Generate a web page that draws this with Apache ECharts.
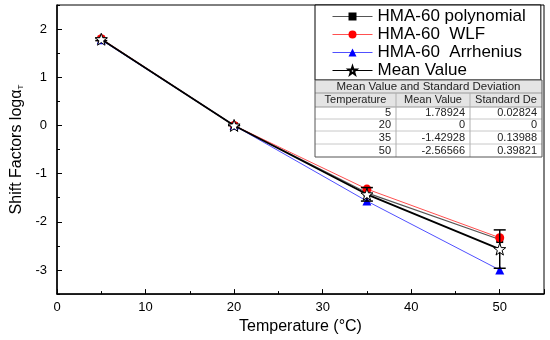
<!DOCTYPE html>
<html>
<head>
<meta charset="utf-8">
<script src="https://cdn.jsdelivr.net/npm/echarts@6/dist/echarts.min.js"></script>
<style>html,body{margin:0;padding:0;background:#fff}#c{width:550px;height:340px}</style>
</head>
<body>
<div id="c"></div>
<script>
const temps = [5, 20, 35, 50];
const polynomial = [1.79, 0, -1.398, -2.368];
const wlf = [1.80, 0, -1.32, -2.33];
const arrhenius = [1.777, 0, -1.57, -3.0];
const meanValue = [1.78924, 0, -1.42928, -2.56566];
const stdDev = [0.02824, 0, 0.13988, 0.39821];
const yTickLabels = [-3, -2, -1, 0, 1, 2];
const yMinorTicks = [-3.5, -2.5, -1.5, -0.5, 0.5, 1.5, 2.5];
const seriesNames = ['HMA-60 polynomial', 'HMA-60  WLF', 'HMA-60  Arrhenius', 'Mean Value'];
const tableTitle = 'Mean Value and Standard Deviation';
const tableHeaders = ['Temperature', 'Mean Value', 'Standard De'];

const FONT = 'Liberation Sans, Arial, sans-serif';
const STAR = 'path://M0,-10L2.35,-3.24L9.51,-3.09L3.8,1.24L5.88,8.09L0,4L-5.88,8.09L-3.8,1.24L-9.51,-3.09L-2.35,-3.24Z';

function pairs(ys) { return temps.map((t, i) => [t, ys[i]]); }

// table graphic
const tL = 315, tR = 542, colX = [315, 396, 470, 542];
const rowY = [80, 93, 107, 119, 131, 144, 157];
const g = [];
g.push({type: 'rect', shape: {x: tL, y: rowY[0], width: tR - tL, height: rowY[2] - rowY[0]}, style: {fill: '#e4e4e4', stroke: null}, z: 100});
g.push({type: 'rect', shape: {x: tL, y: rowY[2], width: tR - tL, height: rowY[6] - rowY[2]}, style: {fill: '#fff', stroke: null}, z: 100});
for (let r = 1; r < 6; r++) {
  g.push({type: 'line', shape: {x1: tL, y1: rowY[r], x2: tR, y2: rowY[r]}, style: {stroke: r <= 2 ? '#9a9a9a' : '#c8c8c8', lineWidth: 1}, z: 101});
}
for (let c = 1; c < 3; c++) {
  g.push({type: 'line', shape: {x1: colX[c], y1: rowY[1], x2: colX[c], y2: rowY[6]}, style: {stroke: '#b0b0b0', lineWidth: 1}, z: 101});
}
g.push({type: 'rect', shape: {x: tL, y: rowY[0], width: tR - tL, height: rowY[6] - rowY[0]}, style: {fill: null, stroke: '#555', lineWidth: 1}, z: 102});
g.push({type: 'text', x: (tL + tR) / 2, y: (rowY[0] + rowY[1]) / 2, style: {text: tableTitle, font: '11.5px ' + FONT, fill: '#222', align: 'center', verticalAlign: 'middle'}, z: 103});
tableHeaders.forEach((h, c) => {
  g.push({type: 'text', x: (colX[c] + colX[c + 1]) / 2, y: (rowY[1] + rowY[2]) / 2, style: {text: h, font: '11px ' + FONT, fill: '#222', align: 'center', verticalAlign: 'middle'}, z: 103});
});
temps.forEach((t, i) => {
  const cells = [String(t), String(meanValue[i]), String(stdDev[i])];
  const yc = (rowY[2 + i] + rowY[3 + i]) / 2;
  cells.forEach((v, c) => {
    g.push({type: 'text', x: colX[c + 1] - 5, y: yc, style: {text: v, font: '11px ' + FONT, fill: '#222', align: 'right', verticalAlign: 'middle'}, z: 103});
  });
});

const chart = echarts.init(document.getElementById('c'), null, {renderer: 'canvas'});
chart.setOption({
  animation: false,
  backgroundColor: '#fff',
  textStyle: {fontFamily: FONT},
  grid: {left: 57, right: 6, top: 5, bottom: 41, show: true, borderColor: '#000', borderWidth: 1},
  xAxis: {
    type: 'value', min: 0, max: 55, interval: 10,
    name: 'Temperature (°C)', nameLocation: 'middle', nameGap: 22,
    nameTextStyle: {fontSize: 16, color: '#000', fontFamily: FONT},
    axisLine: {onZero: false, lineStyle: {color: '#000', width: 1.5}},
    axisTick: {inside: true, length: 5, lineStyle: {color: '#000'}},
    minorTick: {show: true, splitNumber: 2, length: 3, lineStyle: {color: '#000'}},
    axisLabel: {fontSize: 13, color: '#000', margin: 7, fontFamily: FONT,
      formatter: v => (v % 10 === 0 && v <= 50) ? String(v) : ''},
    splitLine: {show: false}
  },
  yAxis: [{
    type: 'value', min: -3.5, max: 2.5,
    name: 'Shift Factors log{s|α}{t|T}', nameLocation: 'middle', nameGap: 29,
    nameTextStyle: {fontSize: 16, color: '#000', fontFamily: FONT,
      rich: {s: {fontSize: 16, fontFamily: FONT}, t: {fontSize: 8, verticalAlign: 'bottom', fontFamily: FONT, padding: [8, 0, 0, 0]}}},
    axisLine: {onZero: false, lineStyle: {color: '#000', width: 1.5}},
    axisTick: {inside: true, length: 5, lineStyle: {color: '#000'}, customValues: yTickLabels},
    axisLabel: {fontSize: 13, color: '#000', margin: 10, fontFamily: FONT, customValues: yTickLabels},
    splitLine: {show: false}
  }, {
    type: 'value', min: -3.5, max: 2.5, position: 'left',
    axisLine: {show: false},
    axisTick: {inside: true, length: 3, lineStyle: {color: '#000'}, customValues: yMinorTicks},
    axisLabel: {show: false},
    splitLine: {show: false}
  }],
  legend: {
    orient: 'vertical', left: 315, top: 5,
    backgroundColor: '#fff', borderColor: '#000', borderWidth: 1,
    padding: [3, 15, 1, 17], itemWidth: 40, itemHeight: 10, itemGap: 1,
    lineStyle: {width: 1},
    textStyle: {fontSize: 17, lineHeight: 17, color: '#000', fontFamily: FONT},
    data: seriesNames
  },
  graphic: g,
  series: [
    {name: seriesNames[0], type: 'line', data: pairs(polynomial), symbol: 'rect', symbolSize: 7,
      itemStyle: {color: '#000'}, lineStyle: {color: '#555', width: 1.2}, z: 2},
    {name: seriesNames[1], type: 'line', data: pairs(wlf), symbol: 'circle', symbolSize: 9,
      itemStyle: {color: '#ff0000'}, lineStyle: {color: '#ff5050', width: 1}, z: 3},
    {name: seriesNames[2], type: 'line', data: pairs(arrhenius), symbol: 'triangle', symbolSize: 9,
      itemStyle: {color: '#0000ff'}, lineStyle: {color: '#5050ff', width: 1}, z: 3},
    {name: 'err', type: 'custom', data: temps.map((t, i) => [t, meanValue[i] - stdDev[i], meanValue[i] + stdDev[i]]),
      renderItem: function (params, api) {
        const x = api.value(0);
        const lo = api.coord([x, api.value(1)]);
        const hi = api.coord([x, api.value(2)]);
        const w = 6;
        const st = {stroke: '#000', lineWidth: 1.5};
        return {type: 'group', children: [
          {type: 'line', shape: {x1: lo[0], y1: lo[1], x2: hi[0], y2: hi[1]}, style: st},
          {type: 'line', shape: {x1: lo[0] - w, y1: lo[1], x2: lo[0] + w, y2: lo[1]}, style: st},
          {type: 'line', shape: {x1: hi[0] - w, y1: hi[1], x2: hi[0] + w, y2: hi[1]}, style: st}
        ]};
      }, z: 4, silent: true},
    {name: seriesNames[3], type: 'line', data: pairs(meanValue), symbol: STAR, symbolSize: 12,
      itemStyle: {color: '#fff', borderColor: '#000', borderWidth: 1},
      lineStyle: {color: '#000', width: 1.8}, z: 5}
  ]
});
</script>
</body>
</html>
